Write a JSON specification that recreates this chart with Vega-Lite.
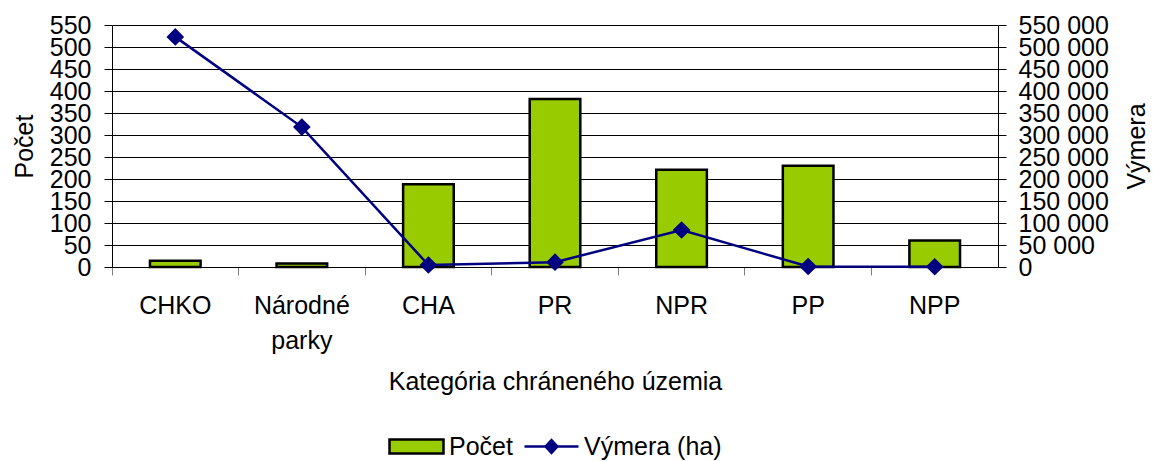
{
  "$schema": "https://vega.github.io/schema/vega-lite/v6.json",
  "autosize": "none",
  "width": 886,
  "height": 242,
  "padding": {"left": 112, "top": 25, "right": 156, "bottom": 194},
  "background": "white",
  "config": {
    "font": "Liberation Sans",
    "view": {"stroke": null},
    "locale": {"number": {"decimal": ",", "thousands": " ", "grouping": [3], "currency": ["", " €"]}},
    "axis": {"labelFontSize": 25, "titleFontSize": 25, "labelColor": "black", "titleColor": "black", "titleFontWeight": "normal", "domainColor": "black", "tickColor": "black", "tickSize": 8, "labelFont": "Liberation Sans", "titleFont": "Liberation Sans"},
    "legend": {"labelFontSize": 25, "labelColor": "black", "labelFont": "Liberation Sans", "layout": {"bottom": {"anchor": "middle", "direction": "horizontal", "margin": 10}}}
  },
  "data": {"values": [
    {"kat": "CHKO", "pocet": 14, "vymera": 523000},
    {"kat": "Národné parky", "pocet": 8, "vymera": 318000},
    {"kat": "CHA", "pocet": 188, "vymera": 4500},
    {"kat": "PR", "pocet": 382, "vymera": 11000},
    {"kat": "NPR", "pocet": 221, "vymera": 84000},
    {"kat": "PP", "pocet": 230, "vymera": 1200},
    {"kat": "NPP", "pocet": 60, "vymera": 500}
  ]},
  "encoding": {
    "x": {
      "field": "kat", "type": "nominal", "sort": null,
      "scale": {"paddingInner": 0, "paddingOuter": 0},
      "axis": {"title": "Kategória chráneného územia", "labelAngle": 0, "bandPosition": 0, "tickColor": "#808080", "labelExpr": "split(datum.label, ' ')", "labelLineHeight": 35, "labelPadding": 18, "titlePadding": 16, "grid": false}
    }
  },
  "layer": [
    {
      "mark": {"type": "bar", "width": {"band": 0.4}, "stroke": "black", "strokeWidth": 2.5},
      "encoding": {
        "y": {"field": "pocet", "type": "quantitative", "scale": {"domain": [0, 550], "nice": false},
          "axis": {"title": "Počet", "values": [0,50,100,150,200,250,300,350,400,450,500,550], "grid": true, "gridColor": "black", "gridWidth": 1, "labelOverlap": false, "labelPadding": 13, "titlePadding": 12}},
        "fill": {"datum": "Počet", "type": "nominal",
          "scale": {"domain": ["Počet"], "range": ["#99CC00"]},
          "legend": {"title": null, "orient": "bottom", "direction": "horizontal", "symbolSize": 2916, "labelOffset": 4, "offset": 24,
            "symbolType": "M-1,-0.26L1,-0.26L1,0.26L-1,0.26Z", "symbolStrokeColor": "black", "symbolStrokeWidth": 2.5, "symbolFillColor": "#99CC00"}
        }
      }
    },
    {
      "mark": {"type": "line", "strokeWidth": 2.5, "point": {"shape": "diamond", "size": 220, "filled": true, "color": "#000080"}},
      "encoding": {
        "y": {"field": "vymera", "type": "quantitative", "scale": {"domain": [0, 550000], "nice": false},
          "axis": {"orient": "right", "title": "Výmera", "titleAngle": -90, "titleBaseline": "top", "values": [0,50000,100000,150000,200000,250000,300000,350000,400000,450000,500000,550000], "format": ",d", "grid": false, "labelOverlap": false, "labelPadding": 12, "titlePadding": 16}},
        "stroke": {"datum": "Výmera (ha)", "type": "nominal",
          "scale": {"domain": ["Výmera (ha)"], "range": ["#000080"]},
          "legend": {"title": null, "orient": "bottom", "direction": "horizontal", "symbolSize": 2916, "labelOffset": 4, "offset": 24,
            "symbolType": "M-1,0L1,0M0,-0.24L0.22,0L0,0.24L-0.22,0Z", "symbolStrokeColor": "#000080", "symbolStrokeWidth": 2.5, "symbolFillColor": "#000080"}
        }
      }
    }
  ],
  "resolve": {"scale": {"y": "independent"}}
}
